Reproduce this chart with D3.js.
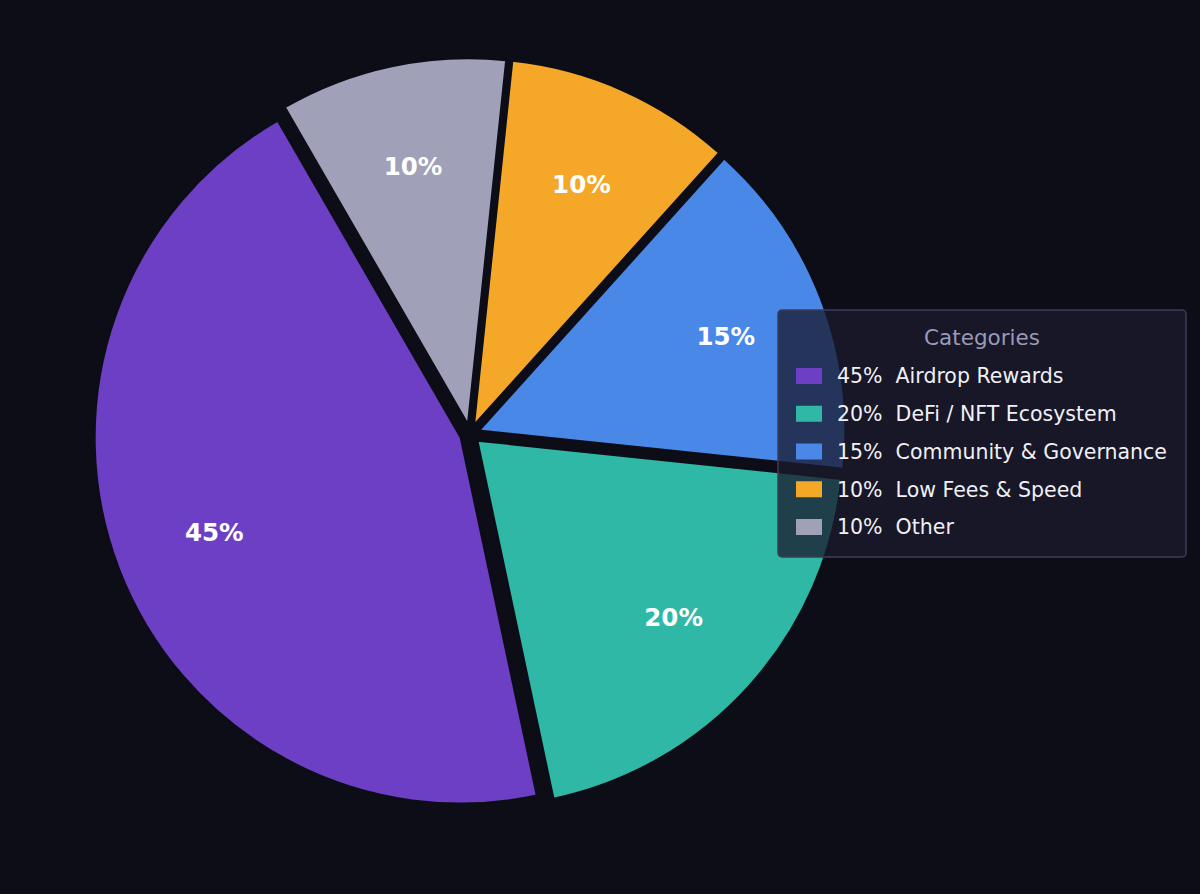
<!DOCTYPE html>
<html>
<head>
<meta charset="utf-8">
<script src="https://cdn.jsdelivr.net/npm/d3@7"></script>
<style>
  html, body { margin: 0; padding: 0; background: #0d0d17; }
  svg { display: block; font-family: "DejaVu Sans", sans-serif; }
</style>
</head>
<body>
<div id="chart"></div>
<script>
// data
var categories = ["Airdrop Rewards", "DeFi / NFT Ecosystem", "Community & Governance", "Low Fees & Speed", "Other"];
var shares = [45, 20, 15, 10, 10];
var colors = ["#6c3fc4", "#2fb8a6", "#4a88e8", "#f5a827", "#a0a0b8"];

var width = 1200, height = 894;
var cx = 470, cy = 434, radius = 366, explode = 10, labelR = 264;

var svg = d3.select("#chart").append("svg")
  .attr("width", width)
  .attr("height", height);

svg.append("rect").attr("width", width).attr("height", height).attr("fill", "#0d0d17");

var data = shares.map(function(v, i) { return {name: categories[i], value: v, color: colors[i]}; });

// start at 120deg (math), going counterclockwise
var pie = d3.pie()
  .sort(null)
  .value(function(d) { return d.value; })
  .startAngle(-Math.PI / 6)
  .endAngle(-Math.PI / 6 - 2 * Math.PI);

var arc = d3.arc().innerRadius(0).outerRadius(radius);

var g = svg.append("g").attr("transform", "translate(" + cx + "," + cy + ")");

var slices = g.selectAll(".slice")
  .data(pie(data))
  .enter().append("g")
  .attr("class", "slice")
  .attr("transform", function(d) {
    var a = (d.startAngle + d.endAngle) / 2;
    return "translate(" + (explode * Math.sin(a)) + "," + (-explode * Math.cos(a)) + ")";
  });

slices.append("path")
  .attr("d", arc)
  .attr("fill", function(d) { return d.data.color; })
  .attr("stroke", "#0d0d17")
  .attr("stroke-width", 2);

slices.append("text")
  .attr("x", function(d) { return labelR * Math.sin((d.startAngle + d.endAngle) / 2); })
  .attr("y", function(d) { return -labelR * Math.cos((d.startAngle + d.endAngle) / 2); })
  .attr("dy", "0.36em")
  .attr("text-anchor", "middle")
  .attr("fill", "#ffffff")
  .attr("font-weight", "bold")
  .attr("font-size", 24.5)
  .text(function(d) { return d.data.value + "%"; });

// legend
var lg = svg.append("g").attr("transform", "translate(778,310)");
lg.append("rect")
  .attr("width", 408)
  .attr("height", 247)
  .attr("rx", 4)
  .attr("fill", "#1a1a2e")
  .attr("fill-opacity", 0.76)
  .attr("stroke", "#3c3c5a")
  .attr("stroke-width", 1.5);

lg.append("text")
  .attr("x", 204)
  .attr("y", 35)
  .attr("text-anchor", "middle")
  .attr("fill", "#9a9ab8")
  .attr("font-size", 21.5)
  .text("Categories");

var rowY = d3.scaleLinear().domain([0, 1]).range([66, 103.75]);

var items = lg.selectAll(".item")
  .data(data)
  .enter().append("g")
  .attr("class", "item")
  .attr("transform", function(d, i) { return "translate(0," + rowY(i) + ")"; });

items.append("rect")
  .attr("x", 18)
  .attr("y", -8)
  .attr("width", 26)
  .attr("height", 16)
  .attr("fill", function(d) { return d.color; });

items.append("text")
  .attr("x", 59)
  .attr("dy", "0.36em")
  .attr("fill", "#f0f0f5")
  .attr("font-size", 20.5)
  .style("white-space", "pre")
  .text(function(d) { return d.value + "%  " + d.name; });
</script>
</body>
</html>
